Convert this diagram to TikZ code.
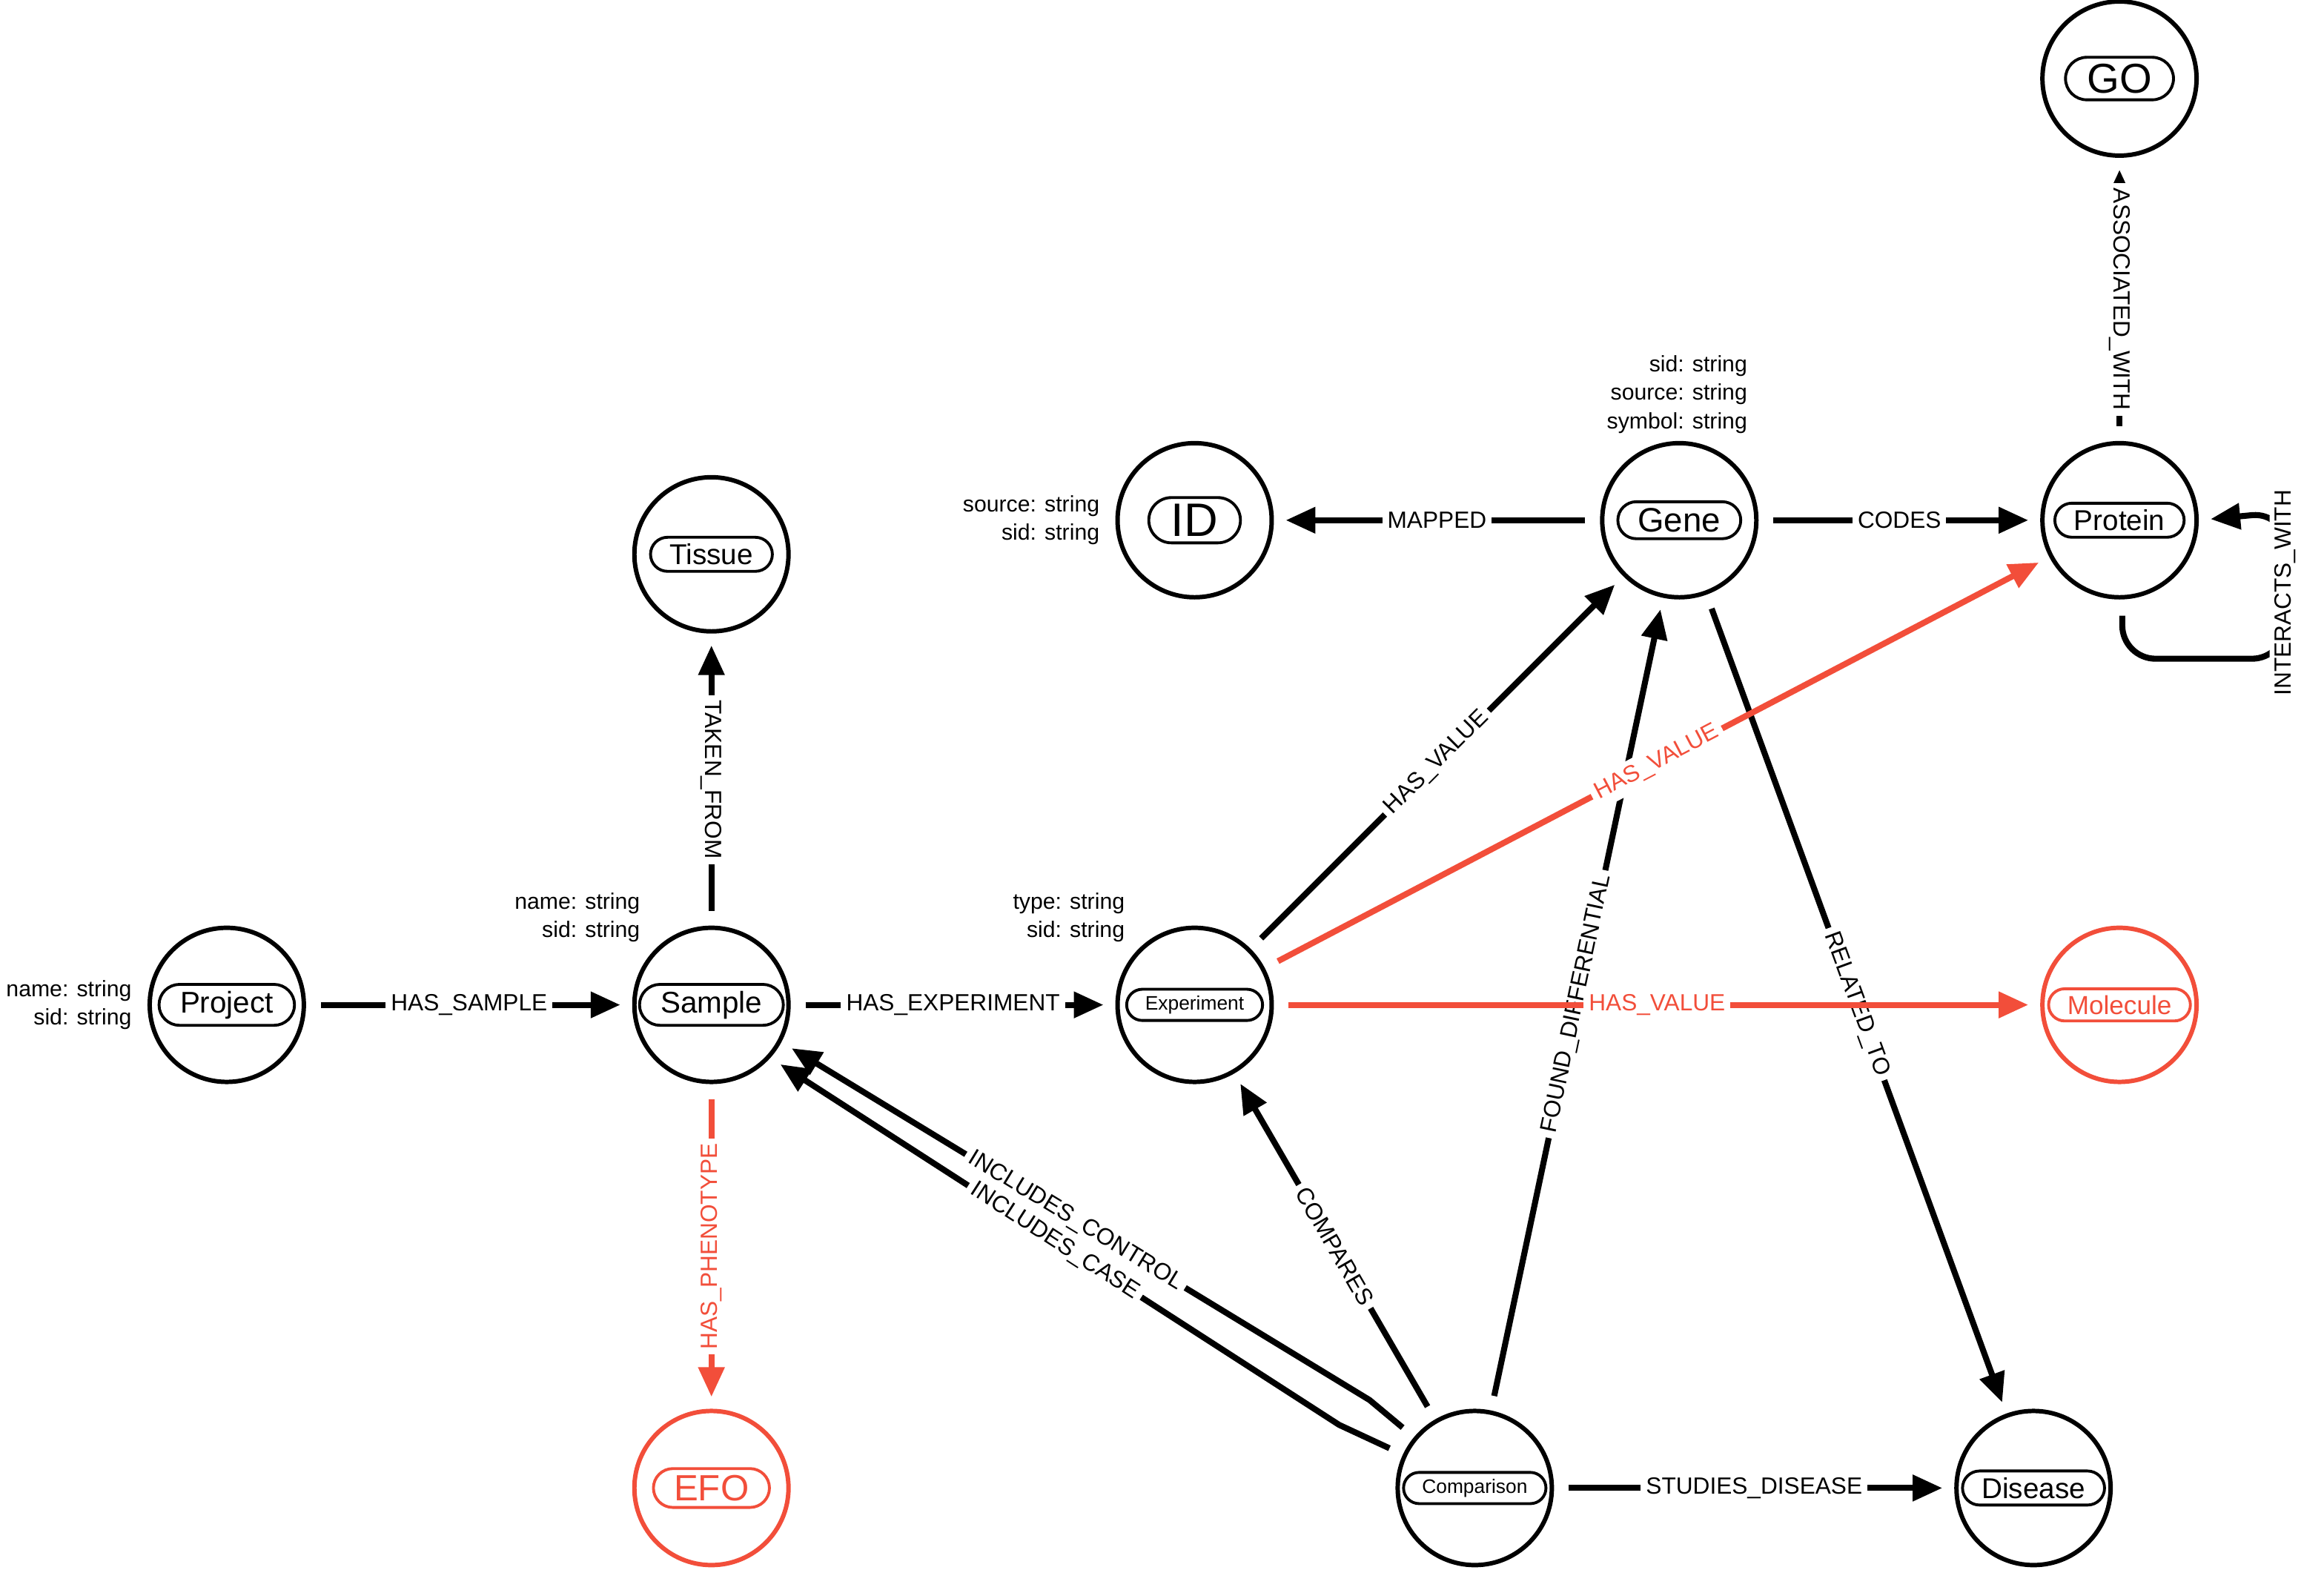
\documentclass[tikz,border=0pt]{standalone}
\usepackage{fontspec}
\setmainfont{Liberation Sans}
\usepackage{tikz}
\usetikzlibrary{arrows.meta}
\usetikzlibrary{positioning}
\usetikzlibrary{shapes.misc}
\definecolor{hot red}{HTML}{F24E3A}
\tikzstyle{entity}=[draw,circle,fill=white,line width=1.7pt,minimum size=2.08cm,inner sep=0pt]
\tikzstyle{pill}=[draw,rounded rectangle,line width=1.1pt,inner xsep=6pt,inner ysep=2.5pt]
\tikzstyle{props}=[align=right,anchor=east,font=\fontsize{8.6}{11}\selectfont]

\begin{document}
\begin{tikzpicture}[
  edge/.style={line width=2.3pt,-{Triangle[length=0.4cm,width=0.34cm]},shorten <=0.2cm,shorten >=0.16cm},
  red edge/.style={edge,draw=hot red,-{Triangle[length=0.4cm,width=0.34cm,fill=hot red]}},
  lbl/.style={fill=white,inner sep=2pt,font=\fontsize{9}{11}\selectfont},
  red lbl/.style={lbl,text=hot red},
]
  \useasboundingbox (0,0) rectangle (31.36,-21.18);
  % nodes
  \node[entity] (go) at (28.6,-1.06) {};
  \node[pill,font=\fontsize{16}{18}\selectfont] (go-l) at (go) {GO};
  \node[entity] (protein) at (28.6,-7.02) {};
  \node[pill,font=\fontsize{11}{13}\selectfont] (protein-l) at (protein) {Protein};
  \node[entity] (gene) at (22.66,-7.02) {};
  \node[pill,font=\fontsize{13}{15}\selectfont] (gene-l) at (gene) {Gene};
  \node[entity] (id) at (16.12,-7.02) {};
  \node[pill,font=\fontsize{18}{20}\selectfont] (id-l) at (id) {ID};
  \node[entity] (tissue) at (9.6,-7.48) {};
  \node[pill,font=\fontsize{11}{13}\selectfont] (tissue-l) at (tissue) {Tissue};
  \node[entity] (project) at (3.06,-13.56) {};
  \node[pill,font=\fontsize{11.5}{13}\selectfont] (project-l) at (project) {Project};
  \node[entity] (sample) at (9.6,-13.56) {};
  \node[pill,font=\fontsize{11.5}{13}\selectfont] (sample-l) at (sample) {Sample};
  \node[entity] (experiment) at (16.12,-13.56) {};
  \node[pill,font=\fontsize{7.5}{9}\selectfont] (experiment-l) at (experiment) {Experiment};
  \node[entity,draw=hot red] (molecule) at (28.6,-13.56) {};
  \node[pill,draw=hot red,text=hot red,font=\fontsize{10}{12}\selectfont] (molecule-l) at (molecule) {Molecule};
  \node[entity,draw=hot red] (efo) at (9.6,-20.08) {};
  \node[pill,draw=hot red,text=hot red,font=\fontsize{14}{16}\selectfont] (efo-l) at (efo) {EFO};
  \node[entity] (comparison) at (19.9,-20.08) {};
  \node[pill,font=\fontsize{7.5}{9}\selectfont] (comparison-l) at (comparison) {Comparison};
  \node[entity] (disease) at (27.44,-20.08) {};
  \node[pill,font=\fontsize{11}{13}\selectfont] (disease-l) at (disease) {Disease};
  % properties
  \node[props] (project-p) at (1.9,-13.56) {name: string\\sid: string};
  \node[props] (sample-p) at (8.76,-12.38) {name: string\\sid: string};
  \node[props] (experiment-p) at (15.3,-12.38) {type: string\\sid: string};
  \node[props] (id-p) at (14.96,-7.02) {source: string\\sid: string};
  \node[props] (gene-p) at (23.7,-5.32) {sid: string\\source: string\\symbol: string};
  % black edges
  \draw[edge] (project) -- (sample) node[lbl,midway] {HAS\_SAMPLE};
  \draw[edge] (sample) -- (experiment) node[lbl,midway] {HAS\_EXPERIMENT};
  \draw[edge] (sample) -- (tissue) node[lbl,midway,rotate=-90] {TAKEN\_FROM};
  \draw[edge] (gene) -- (id) node[lbl,midway] {MAPPED};
  \draw[edge] (gene) -- (protein) node[lbl,midway] {CODES};
  \draw[edge] (protein) -- (go) node[lbl,midway,rotate=-90] {ASSOCIATED\_WITH};
  \draw[edge,rounded corners=0.45cm] ([yshift=-0.02cm]protein.-88) -- ++(0,-0.78) -- ++(2.2,0)
    -- ++(0,1.98) node[lbl,midway,rotate=90,xshift=-0.1cm] {INTERACTS\_WITH} -- (protein.east);
  \draw[edge] (experiment) -- (gene) node[lbl,midway,sloped] {HAS\_VALUE};
  \draw[edge] (gene) -- (disease) node[lbl,midway,sloped] {RELATED\_TO};
  \draw[edge] (comparison) -- (gene) node[lbl,midway,sloped] {FOUND\_DIFFERENTIAL};
  \draw[edge] (comparison) -- (experiment) node[lbl,midway,sloped] {COMPARES};
  \draw[edge] (comparison) -- (disease) node[lbl,midway] {STUDIES\_DISEASE};
  \draw[edge] (comparison.140) -- ++(-0.6,0.5) -- (sample.-28) node[lbl,midway,sloped] {INCLUDES\_CONTROL};
  \draw[edge] (comparison.155) -- ++(-0.86,0.4) -- (sample.-42) node[lbl,midway,sloped] {INCLUDES\_CASE};
  % red edges
  \draw[red edge] (sample) -- (efo) node[red lbl,midway,rotate=90] {HAS\_PHENOTYPE};
  \draw[red edge] (experiment) -- (protein) node[red lbl,midway,sloped] {HAS\_VALUE};
  \draw[red edge] (experiment) -- (molecule) node[red lbl,midway] {HAS\_VALUE};
\end{tikzpicture}
\end{document}
